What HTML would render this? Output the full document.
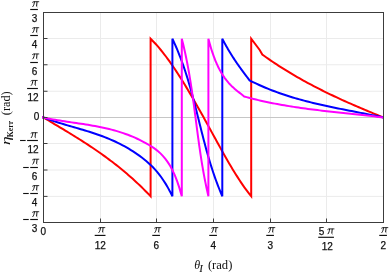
<!DOCTYPE html>
<html><head><meta charset="utf-8"><title>Kerr plot</title>
<style>
html,body{margin:0;padding:0;background:#fff;}
body{width:390px;height:274px;overflow:hidden;font-family:"Liberation Sans",sans-serif;}
svg{display:block;will-change:transform;}
</style></head><body>
<svg width="390" height="274" viewBox="0 0 390 274">
<rect width="390" height="274" fill="#fff"/>
<path d="M100.50 12.5 V222.5 M156.50 12.5 V222.5 M213.50 12.5 V222.5 M270.50 12.5 V222.5 M326.50 12.5 V222.5 M43.5 38.50 H383.5 M43.5 64.75 H383.5 M43.5 91.25 H383.5 M43.5 143.50 H383.5 M43.5 170.00 H383.5 M43.5 196.40 H383.5" stroke="#ebebeb" stroke-width="1" fill="none"/>
<path d="M43.5 117.5 H383.5" stroke="#c6c6c6" stroke-width="1" fill="none"/>
<path d="M42.20 117.30 L43.50 117.50 L45.32 118.59 L47.13 119.68 L48.95 120.76 L50.76 121.85 L52.58 122.93 L54.39 124.02 L56.21 125.10 L58.02 126.19 L59.84 127.27 L61.65 128.36 L63.47 129.46 L65.28 130.55 L67.10 131.65 L68.91 132.76 L70.73 133.87 L72.54 134.98 L74.36 136.10 L76.17 137.23 L77.99 138.36 L79.81 139.51 L81.62 140.66 L83.44 141.82 L85.25 142.99 L87.07 144.17 L88.88 145.36 L90.70 146.56 L92.51 147.78 L94.33 149.00 L96.14 150.24 L97.96 151.49 L99.77 152.76 L101.59 154.04 L103.40 155.34 L105.22 156.65 L107.03 157.98 L108.85 159.33 L110.66 160.69 L112.48 162.07 L114.29 163.47 L116.11 164.89 L117.93 166.33 L119.74 167.79 L121.56 169.27 L123.37 170.77 L125.19 172.29 L127.00 173.84 L128.82 175.41 L130.63 177.00 L132.45 178.62 L134.26 180.26 L136.08 181.93 L137.89 183.62 L139.71 185.34 L141.52 187.09 L143.34 188.86 L145.15 190.67 L146.97 192.50 L148.78 194.36 L150.60 196.25 L150.60 38.75 L152.31 40.44 L154.01 42.21 L155.72 44.05 L157.42 45.96 L159.13 47.94 L160.83 49.99 L162.54 52.10 L164.24 54.28 L165.95 56.51 L167.65 58.81 L169.36 61.16 L171.06 63.57 L172.77 66.03 L174.47 68.54 L176.18 71.11 L177.88 73.71 L179.59 76.37 L181.29 79.06 L183.00 81.80 L184.70 84.58 L186.41 87.39 L188.11 90.24 L189.82 93.12 L191.52 96.03 L193.23 98.97 L194.93 101.93 L196.64 104.93 L198.34 107.94 L200.05 110.97 L201.75 114.03 L203.46 117.10 L205.16 120.18 L206.87 123.28 L208.57 126.39 L210.28 129.50 L211.98 132.62 L213.69 135.74 L215.39 138.85 L217.10 141.96 L218.80 145.05 L220.51 148.13 L222.21 151.19 L223.92 154.22 L225.62 157.23 L227.33 160.20 L229.03 163.14 L230.74 166.04 L232.44 168.89 L234.15 171.70 L235.85 174.45 L237.56 177.15 L239.26 179.79 L240.97 182.36 L242.67 184.87 L244.38 187.31 L246.08 189.67 L247.79 191.95 L249.49 194.14 L251.20 196.25 L251.20 38.75 L259.70 50.00 L262.30 54.60 L262.30 54.60 L264.35 56.06 L266.41 57.51 L268.46 58.94 L270.52 60.34 L272.57 61.73 L274.63 63.10 L276.68 64.45 L278.73 65.79 L280.79 67.10 L282.84 68.40 L284.90 69.69 L286.95 70.95 L289.01 72.20 L291.06 73.44 L293.11 74.66 L295.17 75.86 L297.22 77.05 L299.28 78.23 L301.33 79.39 L303.38 80.53 L305.44 81.66 L307.49 82.78 L309.55 83.89 L311.60 84.98 L313.66 86.06 L315.71 87.13 L317.76 88.18 L319.82 89.23 L321.87 90.26 L323.93 91.28 L325.98 92.29 L328.04 93.30 L330.09 94.29 L332.14 95.27 L334.20 96.24 L336.25 97.20 L338.31 98.15 L340.36 99.10 L342.42 100.04 L344.47 100.97 L346.52 101.89 L348.58 102.80 L350.63 103.71 L352.69 104.61 L354.74 105.50 L356.79 106.39 L358.85 107.27 L360.90 108.14 L362.96 109.01 L365.01 109.88 L367.07 110.74 L369.12 111.60 L371.17 112.45 L373.23 113.30 L375.28 114.15 L377.34 114.99 L379.39 115.83 L381.45 116.66 L383.50 117.50" stroke="#ff0000" stroke-width="2" fill="none" stroke-linejoin="miter" stroke-miterlimit="4"/>
<path d="M42.20 117.30 L43.50 117.50 L45.68 118.32 L47.87 119.11 L50.05 119.87 L52.24 120.61 L54.42 121.34 L56.61 122.04 L58.79 122.73 L60.98 123.40 L63.16 124.06 L65.35 124.71 L67.53 125.36 L69.72 125.99 L71.90 126.63 L74.09 127.26 L76.27 127.89 L78.46 128.53 L80.64 129.17 L82.83 129.82 L85.01 130.47 L87.19 131.14 L89.38 131.82 L91.56 132.52 L93.75 133.23 L95.93 133.96 L98.12 134.72 L100.30 135.49 L102.49 136.30 L104.67 137.13 L106.86 137.99 L109.04 138.88 L111.23 139.81 L113.41 140.77 L115.60 141.78 L117.78 142.82 L119.97 143.90 L122.15 145.03 L124.34 146.21 L126.52 147.43 L128.71 148.71 L130.89 150.04 L133.07 151.42 L135.26 152.86 L137.44 154.36 L139.63 155.92 L141.81 157.55 L144.00 159.24 L146.18 161.02 L148.37 162.91 L150.55 164.91 L152.74 167.07 L154.92 169.38 L157.11 171.89 L159.29 174.59 L161.48 177.52 L163.66 180.70 L165.85 184.14 L168.03 187.87 L170.22 191.90 L172.40 196.25 L172.40 38.75 L173.64 41.42 L174.84 44.09 L176.01 46.76 L177.14 49.43 L178.24 52.10 L179.30 54.77 L180.34 57.44 L181.34 60.11 L182.32 62.78 L183.26 65.44 L184.19 68.11 L185.09 70.78 L185.96 73.45 L186.81 76.12 L187.64 78.79 L188.45 81.46 L189.24 84.13 L190.02 86.80 L190.78 89.47 L191.52 92.14 L192.25 94.81 L192.97 97.48 L193.68 100.15 L194.38 102.82 L195.06 105.49 L195.75 108.16 L196.42 110.83 L197.09 113.50 L197.76 116.17 L198.42 118.83 L199.09 121.50 L199.75 124.17 L200.42 126.84 L201.08 129.51 L201.76 132.18 L202.43 134.85 L203.12 137.52 L203.81 140.19 L204.51 142.86 L205.22 145.53 L205.94 148.20 L206.67 150.87 L207.42 153.54 L208.18 156.21 L208.96 158.88 L209.76 161.55 L210.58 164.22 L211.41 166.89 L212.27 169.56 L213.15 172.22 L214.05 174.89 L214.98 177.56 L215.94 180.23 L216.92 182.90 L217.94 185.57 L218.98 188.24 L220.05 190.91 L221.16 193.58 L222.30 196.25 L222.30 38.75 L222.76 39.65 L223.23 40.53 L223.69 41.41 L224.15 42.28 L224.61 43.14 L225.08 43.99 L225.54 44.83 L226.00 45.66 L226.46 46.48 L226.93 47.30 L227.39 48.11 L227.85 48.90 L228.32 49.70 L228.78 50.48 L229.24 51.26 L229.70 52.02 L230.17 52.78 L230.63 53.54 L231.09 54.29 L231.55 55.03 L232.02 55.76 L232.48 56.49 L232.94 57.21 L233.41 57.92 L233.87 58.63 L234.33 59.34 L234.79 60.03 L235.26 60.73 L235.72 61.41 L236.18 62.10 L236.64 62.77 L237.11 63.45 L237.57 64.11 L238.03 64.78 L238.49 65.44 L238.96 66.09 L239.42 66.74 L239.88 67.39 L240.35 68.03 L240.81 68.67 L241.27 69.31 L241.73 69.94 L242.20 70.57 L242.66 71.20 L243.12 71.83 L243.58 72.45 L244.05 73.07 L244.51 73.69 L244.97 74.31 L245.44 74.92 L245.90 75.53 L246.36 76.15 L246.82 76.76 L247.29 77.37 L247.75 77.97 L248.21 78.58 L248.67 79.19 L249.14 79.79 L249.60 80.40 L249.60 80.40 L251.87 81.53 L254.14 82.63 L256.41 83.71 L258.68 84.75 L260.95 85.77 L263.22 86.75 L265.49 87.72 L267.76 88.65 L270.03 89.56 L272.29 90.45 L274.56 91.31 L276.83 92.15 L279.10 92.97 L281.37 93.76 L283.64 94.53 L285.91 95.29 L288.18 96.02 L290.45 96.73 L292.72 97.43 L294.99 98.10 L297.26 98.76 L299.53 99.41 L301.80 100.03 L304.07 100.64 L306.34 101.24 L308.61 101.82 L310.88 102.39 L313.15 102.95 L315.42 103.49 L317.68 104.02 L319.95 104.55 L322.22 105.06 L324.49 105.56 L326.76 106.06 L329.03 106.54 L331.30 107.02 L333.57 107.49 L335.84 107.96 L338.11 108.42 L340.38 108.87 L342.65 109.32 L344.92 109.77 L347.19 110.22 L349.46 110.66 L351.73 111.10 L354.00 111.54 L356.27 111.98 L358.54 112.42 L360.81 112.87 L363.07 113.31 L365.34 113.76 L367.61 114.21 L369.88 114.66 L372.15 115.12 L374.42 115.58 L376.69 116.05 L378.96 116.53 L381.23 117.01 L383.50 117.50" stroke="#0000ff" stroke-width="2" fill="none" stroke-linejoin="miter" stroke-miterlimit="4"/>
<path d="M42.20 117.30 L43.50 117.50 L45.84 118.00 L48.19 118.48 L50.53 118.94 L52.88 119.37 L55.22 119.79 L57.56 120.19 L59.91 120.58 L62.25 120.95 L64.60 121.32 L66.94 121.67 L69.28 122.02 L71.63 122.37 L73.97 122.71 L76.32 123.05 L78.66 123.40 L81.01 123.75 L83.35 124.11 L85.69 124.47 L88.04 124.85 L90.38 125.24 L92.73 125.64 L95.07 126.06 L97.41 126.49 L99.76 126.95 L102.10 127.43 L104.45 127.94 L106.79 128.47 L109.13 129.03 L111.48 129.62 L113.82 130.25 L116.17 130.91 L118.51 131.61 L120.85 132.34 L123.20 133.12 L125.54 133.94 L127.89 134.81 L130.23 135.73 L132.57 136.69 L134.92 137.70 L137.26 138.77 L139.61 139.90 L141.95 141.08 L144.29 142.32 L146.64 143.63 L148.98 145.00 L151.33 146.43 L153.67 147.95 L156.02 149.62 L158.36 151.49 L160.70 153.61 L163.05 156.05 L165.39 158.86 L167.74 162.10 L170.08 165.82 L172.42 170.14 L174.77 175.20 L177.11 181.14 L179.46 188.11 L181.80 196.25 L181.80 38.75 L182.47 41.42 L183.13 44.09 L183.76 46.76 L184.38 49.43 L184.97 52.10 L185.54 54.77 L186.10 57.44 L186.64 60.11 L187.17 62.78 L187.68 65.44 L188.17 68.11 L188.65 70.78 L189.12 73.45 L189.57 76.12 L190.01 78.79 L190.44 81.46 L190.86 84.13 L191.27 86.80 L191.68 89.47 L192.07 92.14 L192.45 94.81 L192.83 97.48 L193.20 100.15 L193.57 102.82 L193.93 105.49 L194.29 108.16 L194.64 110.83 L194.99 113.50 L195.34 116.17 L195.69 118.83 L196.03 121.50 L196.38 124.17 L196.73 126.84 L197.08 129.51 L197.43 132.18 L197.78 134.85 L198.14 137.52 L198.50 140.19 L198.87 142.86 L199.24 145.53 L199.62 148.20 L200.01 150.87 L200.41 153.54 L200.81 156.21 L201.22 158.88 L201.65 161.55 L202.08 164.22 L202.53 166.89 L202.99 169.56 L203.46 172.22 L203.94 174.89 L204.44 177.56 L204.96 180.23 L205.49 182.90 L206.03 185.57 L206.60 188.24 L207.18 190.91 L207.78 193.58 L208.40 196.25 L208.40 38.75 L209.01 41.05 L209.61 43.26 L210.22 45.39 L210.83 47.45 L211.43 49.42 L212.04 51.32 L212.65 53.15 L213.25 54.91 L213.86 56.59 L214.47 58.22 L215.07 59.78 L215.68 61.28 L216.29 62.72 L216.89 64.10 L217.50 65.43 L218.11 66.71 L218.72 67.94 L219.32 69.13 L219.93 70.27 L220.54 71.37 L221.14 72.42 L221.75 73.44 L222.36 74.43 L222.96 75.38 L223.57 76.30 L224.18 77.19 L224.78 78.05 L225.39 78.88 L226.00 79.68 L226.60 80.46 L227.21 81.21 L227.82 81.93 L228.42 82.64 L229.03 83.32 L229.64 83.98 L230.24 84.62 L230.85 85.24 L231.46 85.84 L232.06 86.43 L232.67 87.00 L233.28 87.56 L233.88 88.11 L234.49 88.64 L235.10 89.16 L235.71 89.68 L236.31 90.18 L236.92 90.68 L237.53 91.17 L238.13 91.66 L238.74 92.14 L239.35 92.62 L239.95 93.10 L240.56 93.58 L241.17 94.05 L241.77 94.54 L242.38 95.02 L242.99 95.51 L243.59 96.00 L244.20 96.50 L244.20 96.50 L246.56 97.15 L248.92 97.77 L251.28 98.39 L253.64 98.98 L256.01 99.56 L258.37 100.12 L260.73 100.66 L263.09 101.19 L265.45 101.71 L267.81 102.21 L270.17 102.70 L272.53 103.17 L274.89 103.63 L277.25 104.08 L279.62 104.51 L281.98 104.93 L284.34 105.34 L286.70 105.74 L289.06 106.13 L291.42 106.51 L293.78 106.87 L296.14 107.23 L298.50 107.58 L300.86 107.92 L303.23 108.25 L305.59 108.58 L307.95 108.89 L310.31 109.20 L312.67 109.51 L315.03 109.80 L317.39 110.09 L319.75 110.38 L322.11 110.66 L324.47 110.93 L326.84 111.20 L329.20 111.47 L331.56 111.74 L333.92 112.00 L336.28 112.25 L338.64 112.51 L341.00 112.76 L343.36 113.02 L345.72 113.27 L348.08 113.52 L350.45 113.77 L352.81 114.02 L355.17 114.27 L357.53 114.53 L359.89 114.78 L362.25 115.04 L364.61 115.30 L366.97 115.56 L369.33 115.82 L371.69 116.09 L374.06 116.36 L376.42 116.64 L378.78 116.92 L381.14 117.21 L383.50 117.50" stroke="#ff00ff" stroke-width="2" fill="none" stroke-linejoin="miter" stroke-miterlimit="4"/>
<rect x="43.5" y="12.5" width="340.0" height="210.0" fill="none" stroke="#3c3c3c" stroke-width="1"/>
<path d="M100.50 222.5 v-4 M156.50 222.5 v-4 M213.50 222.5 v-4 M270.50 222.5 v-4 M326.50 222.5 v-4 M43.5 38.50 h4 M43.5 64.75 h4 M43.5 91.25 h4 M43.5 117.50 h4 M43.5 143.50 h4 M43.5 170.00 h4 M43.5 196.40 h4" stroke="#3c3c3c" stroke-width="1" fill="none"/>
<g transform="translate(32.35 7.00)" fill="none" stroke="#111" stroke-linecap="round"><path d="M0.15 -4.75 Q0.7 -5.3 1.5 -5.3 L6.45 -5.3" stroke-width="0.85"/><path d="M2.05 -5.1 C1.9 -3.2 1.45 -1.5 0.5 -0.4" stroke-width="1.0"/><path d="M4.65 -5.1 L4.25 -0.75 L4.6 -0.45" stroke-width="1.0"/></g>
<path d="M30.20 9.50 H37.90" stroke="#111" stroke-width="1.15"/>
<text x="34.55" y="22.30" text-anchor="middle" font-family="Liberation Sans, sans-serif" font-size="10" fill="#111" stroke="#111" stroke-width="0.25">3</text>
<g transform="translate(32.35 33.00)" fill="none" stroke="#111" stroke-linecap="round"><path d="M0.15 -4.75 Q0.7 -5.3 1.5 -5.3 L6.45 -5.3" stroke-width="0.85"/><path d="M2.05 -5.1 C1.9 -3.2 1.45 -1.5 0.5 -0.4" stroke-width="1.0"/><path d="M4.65 -5.1 L4.25 -0.75 L4.6 -0.45" stroke-width="1.0"/></g>
<path d="M30.20 35.50 H37.90" stroke="#111" stroke-width="1.15"/>
<text x="34.55" y="48.30" text-anchor="middle" font-family="Liberation Sans, sans-serif" font-size="10" fill="#111" stroke="#111" stroke-width="0.25">4</text>
<g transform="translate(32.35 59.25)" fill="none" stroke="#111" stroke-linecap="round"><path d="M0.15 -4.75 Q0.7 -5.3 1.5 -5.3 L6.45 -5.3" stroke-width="0.85"/><path d="M2.05 -5.1 C1.9 -3.2 1.45 -1.5 0.5 -0.4" stroke-width="1.0"/><path d="M4.65 -5.1 L4.25 -0.75 L4.6 -0.45" stroke-width="1.0"/></g>
<path d="M30.20 62.50 H37.90" stroke="#111" stroke-width="1.15"/>
<text x="34.55" y="74.55" text-anchor="middle" font-family="Liberation Sans, sans-serif" font-size="10" fill="#111" stroke="#111" stroke-width="0.25">6</text>
<g transform="translate(30.80 85.75)" fill="none" stroke="#111" stroke-linecap="round"><path d="M0.15 -4.75 Q0.7 -5.3 1.5 -5.3 L6.45 -5.3" stroke-width="0.85"/><path d="M2.05 -5.1 C1.9 -3.2 1.45 -1.5 0.5 -0.4" stroke-width="1.0"/><path d="M4.65 -5.1 L4.25 -0.75 L4.6 -0.45" stroke-width="1.0"/></g>
<path d="M27.10 88.50 H37.90" stroke="#111" stroke-width="1.15"/>
<text x="33.00" y="101.05" text-anchor="middle" font-family="Liberation Sans, sans-serif" font-size="10" fill="#111" stroke="#111" stroke-width="0.25">12</text>
<text x="39.4" y="119.70" text-anchor="end" font-family="Liberation Sans, sans-serif" font-size="10" fill="#111" stroke="#111" stroke-width="0.25">0</text>
<g transform="translate(30.80 138.00)" fill="none" stroke="#111" stroke-linecap="round"><path d="M0.15 -4.75 Q0.7 -5.3 1.5 -5.3 L6.45 -5.3" stroke-width="0.85"/><path d="M2.05 -5.1 C1.9 -3.2 1.45 -1.5 0.5 -0.4" stroke-width="1.0"/><path d="M4.65 -5.1 L4.25 -0.75 L4.6 -0.45" stroke-width="1.0"/></g>
<path d="M27.10 140.50 H37.90" stroke="#111" stroke-width="1.15"/>
<text x="33.00" y="153.30" text-anchor="middle" font-family="Liberation Sans, sans-serif" font-size="10" fill="#111" stroke="#111" stroke-width="0.25">12</text>
<path d="M20.05 140.50 h5.6" stroke="#111" stroke-width="1.1"/>
<g transform="translate(32.35 164.50)" fill="none" stroke="#111" stroke-linecap="round"><path d="M0.15 -4.75 Q0.7 -5.3 1.5 -5.3 L6.45 -5.3" stroke-width="0.85"/><path d="M2.05 -5.1 C1.9 -3.2 1.45 -1.5 0.5 -0.4" stroke-width="1.0"/><path d="M4.65 -5.1 L4.25 -0.75 L4.6 -0.45" stroke-width="1.0"/></g>
<path d="M30.20 167.50 H37.90" stroke="#111" stroke-width="1.15"/>
<text x="34.55" y="179.80" text-anchor="middle" font-family="Liberation Sans, sans-serif" font-size="10" fill="#111" stroke="#111" stroke-width="0.25">6</text>
<path d="M23.15 167.50 h5.6" stroke="#111" stroke-width="1.1"/>
<g transform="translate(32.35 190.90)" fill="none" stroke="#111" stroke-linecap="round"><path d="M0.15 -4.75 Q0.7 -5.3 1.5 -5.3 L6.45 -5.3" stroke-width="0.85"/><path d="M2.05 -5.1 C1.9 -3.2 1.45 -1.5 0.5 -0.4" stroke-width="1.0"/><path d="M4.65 -5.1 L4.25 -0.75 L4.6 -0.45" stroke-width="1.0"/></g>
<path d="M30.20 193.50 H37.90" stroke="#111" stroke-width="1.15"/>
<text x="34.55" y="206.20" text-anchor="middle" font-family="Liberation Sans, sans-serif" font-size="10" fill="#111" stroke="#111" stroke-width="0.25">4</text>
<path d="M23.15 193.50 h5.6" stroke="#111" stroke-width="1.1"/>
<g transform="translate(32.35 217.00)" fill="none" stroke="#111" stroke-linecap="round"><path d="M0.15 -4.75 Q0.7 -5.3 1.5 -5.3 L6.45 -5.3" stroke-width="0.85"/><path d="M2.05 -5.1 C1.9 -3.2 1.45 -1.5 0.5 -0.4" stroke-width="1.0"/><path d="M4.65 -5.1 L4.25 -0.75 L4.6 -0.45" stroke-width="1.0"/></g>
<path d="M30.20 219.50 H37.90" stroke="#111" stroke-width="1.15"/>
<text x="34.55" y="232.30" text-anchor="middle" font-family="Liberation Sans, sans-serif" font-size="10" fill="#111" stroke="#111" stroke-width="0.25">3</text>
<path d="M23.15 219.50 h5.6" stroke="#111" stroke-width="1.1"/>
<text x="43.30" y="235.2" text-anchor="middle" font-family="Liberation Sans, sans-serif" font-size="10" fill="#111" stroke="#111" stroke-width="0.25">0</text>
<g transform="translate(98.40 232.90)" fill="none" stroke="#111" stroke-linecap="round"><path d="M0.15 -4.75 Q0.7 -5.3 1.5 -5.3 L6.45 -5.3" stroke-width="0.85"/><path d="M2.05 -5.1 C1.9 -3.2 1.45 -1.5 0.5 -0.4" stroke-width="1.0"/><path d="M4.65 -5.1 L4.25 -0.75 L4.6 -0.45" stroke-width="1.0"/></g>
<text x="100.20" y="248.60" text-anchor="middle" font-family="Liberation Sans, sans-serif" font-size="10" fill="#111" stroke="#111" stroke-width="0.25">12</text>
<path d="M94.70 235.40 H105.50" stroke="#111" stroke-width="1.15"/>
<g transform="translate(154.40 232.90)" fill="none" stroke="#111" stroke-linecap="round"><path d="M0.15 -4.75 Q0.7 -5.3 1.5 -5.3 L6.45 -5.3" stroke-width="0.85"/><path d="M2.05 -5.1 C1.9 -3.2 1.45 -1.5 0.5 -0.4" stroke-width="1.0"/><path d="M4.65 -5.1 L4.25 -0.75 L4.6 -0.45" stroke-width="1.0"/></g>
<text x="156.20" y="248.60" text-anchor="middle" font-family="Liberation Sans, sans-serif" font-size="10" fill="#111" stroke="#111" stroke-width="0.25">6</text>
<path d="M152.25 235.40 H159.95" stroke="#111" stroke-width="1.15"/>
<g transform="translate(211.40 232.90)" fill="none" stroke="#111" stroke-linecap="round"><path d="M0.15 -4.75 Q0.7 -5.3 1.5 -5.3 L6.45 -5.3" stroke-width="0.85"/><path d="M2.05 -5.1 C1.9 -3.2 1.45 -1.5 0.5 -0.4" stroke-width="1.0"/><path d="M4.65 -5.1 L4.25 -0.75 L4.6 -0.45" stroke-width="1.0"/></g>
<text x="213.20" y="248.60" text-anchor="middle" font-family="Liberation Sans, sans-serif" font-size="10" fill="#111" stroke="#111" stroke-width="0.25">4</text>
<path d="M209.25 235.40 H216.95" stroke="#111" stroke-width="1.15"/>
<g transform="translate(268.40 232.90)" fill="none" stroke="#111" stroke-linecap="round"><path d="M0.15 -4.75 Q0.7 -5.3 1.5 -5.3 L6.45 -5.3" stroke-width="0.85"/><path d="M2.05 -5.1 C1.9 -3.2 1.45 -1.5 0.5 -0.4" stroke-width="1.0"/><path d="M4.65 -5.1 L4.25 -0.75 L4.6 -0.45" stroke-width="1.0"/></g>
<text x="270.20" y="248.60" text-anchor="middle" font-family="Liberation Sans, sans-serif" font-size="10" fill="#111" stroke="#111" stroke-width="0.25">3</text>
<path d="M266.25 235.40 H273.95" stroke="#111" stroke-width="1.15"/>
<text x="318.75" y="234.50" font-family="Liberation Sans, sans-serif" font-size="10" fill="#111" stroke="#111" stroke-width="0.25">5</text>
<g transform="translate(327.55 234.20)" fill="none" stroke="#111" stroke-linecap="round"><path d="M0.15 -4.75 Q0.7 -5.3 1.5 -5.3 L6.45 -5.3" stroke-width="0.85"/><path d="M2.05 -5.1 C1.9 -3.2 1.45 -1.5 0.5 -0.4" stroke-width="1.0"/><path d="M4.65 -5.1 L4.25 -0.75 L4.6 -0.45" stroke-width="1.0"/></g>
<text x="327.20" y="250.40" text-anchor="middle" font-family="Liberation Sans, sans-serif" font-size="10" fill="#111" stroke="#111" stroke-width="0.25">12</text>
<path d="M318.25 237.30 H333.95" stroke="#111" stroke-width="1.15"/>
<g transform="translate(381.40 232.90)" fill="none" stroke="#111" stroke-linecap="round"><path d="M0.15 -4.75 Q0.7 -5.3 1.5 -5.3 L6.45 -5.3" stroke-width="0.85"/><path d="M2.05 -5.1 C1.9 -3.2 1.45 -1.5 0.5 -0.4" stroke-width="1.0"/><path d="M4.65 -5.1 L4.25 -0.75 L4.6 -0.45" stroke-width="1.0"/></g>
<text x="383.20" y="248.60" text-anchor="middle" font-family="Liberation Sans, sans-serif" font-size="10" fill="#111" stroke="#111" stroke-width="0.25">2</text>
<path d="M379.25 235.40 H386.95" stroke="#111" stroke-width="1.15"/>
<text x="194.3" y="268.8" font-family="Liberation Serif, serif" font-size="12.6" fill="#111"><tspan font-style="italic" font-size="12">θ</tspan><tspan font-style="italic" font-size="9.5" dy="3.1" dx="-0.6" stroke="#111" stroke-width="0.2">I</tspan></text>
<text x="207.9" y="268.8" font-family="Liberation Serif, serif" font-size="12.6" fill="#111">(rad)</text>
<g transform="translate(10.3 0) rotate(-90)" font-family="Liberation Serif, serif" fill="#111"><text transform="translate(-145.0 0) scale(1.45 1)" x="0" y="0" font-size="12" font-style="italic">η</text><text x="-137.3" y="2.3" font-size="7.8" font-weight="bold">Kerr</text><text x="-115.2" y="0" font-size="12.3">(rad)</text></g>
</svg>
</body></html>
